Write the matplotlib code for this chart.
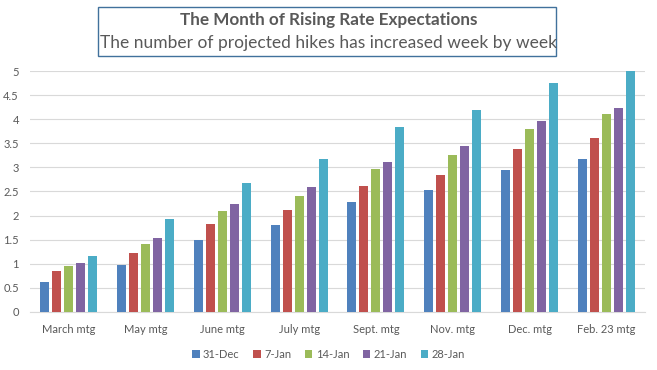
import numpy as np
import matplotlib.pyplot as plt

meetings = ["March mtg", "May mtg", "June mtg", "July mtg", "Sept. mtg",
            "Nov. mtg", "Dec. mtg", "Feb. 23 mtg"]
weeks = ["31-Dec", "7-Jan", "14-Jan", "21-Jan", "28-Jan"]

hikes_31dec = [0.63, 0.98, 1.50, 1.81, 2.29, 2.54, 2.94, 3.17]
hikes_7jan = [0.85, 1.23, 1.83, 2.12, 2.62, 2.85, 3.38, 3.61]
hikes_14jan = [0.96, 1.40, 2.10, 2.41, 2.97, 3.26, 3.80, 4.10]
hikes_21jan = [1.02, 1.54, 2.24, 2.59, 3.11, 3.44, 3.96, 4.24]
hikes_28jan = [1.17, 1.93, 2.67, 3.17, 3.84, 4.19, 4.75, 5.00]

series = [hikes_31dec, hikes_7jan, hikes_14jan, hikes_21jan, hikes_28jan]
colors = ["#4F81BD", "#C0504D", "#9BBB59", "#8064A2", "#4BACC6"]

plt.rcParams["font.family"] = ["Lato", "DejaVu Sans"]
text_color = "#595959"

fig = plt.figure(figsize=(6.57, 3.70), dpi=100)
ax = fig.add_axes([0.0457, 0.157, 0.936, 0.651])

x = np.arange(len(meetings))
step = 0.156
width = 0.117
for i, (vals, col, lab) in enumerate(zip(series, colors, weeks)):
    ax.bar(x + (i - 2) * step, vals, width, color=col, label=lab, zorder=3)

ax.set_xlim(-0.5, len(meetings) - 0.5)
ax.set_ylim(0, 5)
ax.set_yticks(np.arange(0, 5.01, 0.5))
ax.set_yticklabels(["0", "0.5", "1", "1.5", "2", "2.5", "3", "3.5", "4", "4.5", "5"])
ax.set_xticks(x)
ax.set_xticklabels(meetings)
ax.tick_params(axis="both", length=0, labelsize=8, colors=text_color)
ax.tick_params(axis="x", pad=9)
ax.tick_params(axis="y", pad=8)
ax.grid(axis="y", color="#D9D9D9", linewidth=0.8, zorder=0)
for s in ["top", "right", "left"]:
    ax.spines[s].set_visible(False)
ax.spines["bottom"].set_color("#D9D9D9")

leg = fig.legend(loc="center", bbox_to_anchor=(0.5, 0.043), ncol=5, frameon=False,
                 fontsize=8, handlelength=0.7, handleheight=0.7, handletextpad=0.3,
                 columnspacing=1.2)
for t in leg.get_texts():
    t.set_color(text_color)

# title box
fig.patches.append(plt.Rectangle((98 / 657, 1 - 56 / 370), 458 / 657, 49 / 370,
                                 transform=fig.transFigure, fill=False,
                                 edgecolor="#41719C", linewidth=1.0))
fig.text(0.5, 1 - 20 / 370, "The Month of Rising Rate Expectations", ha="center",
         va="center", fontsize=12.3, fontweight="bold", color=text_color)
fig.text(0.5, 1 - 43 / 370, "The number of projected hikes has increased week by week",
         ha="center", va="center", fontsize=12.5, color=text_color)

fig.savefig("out.png", dpi=100)
